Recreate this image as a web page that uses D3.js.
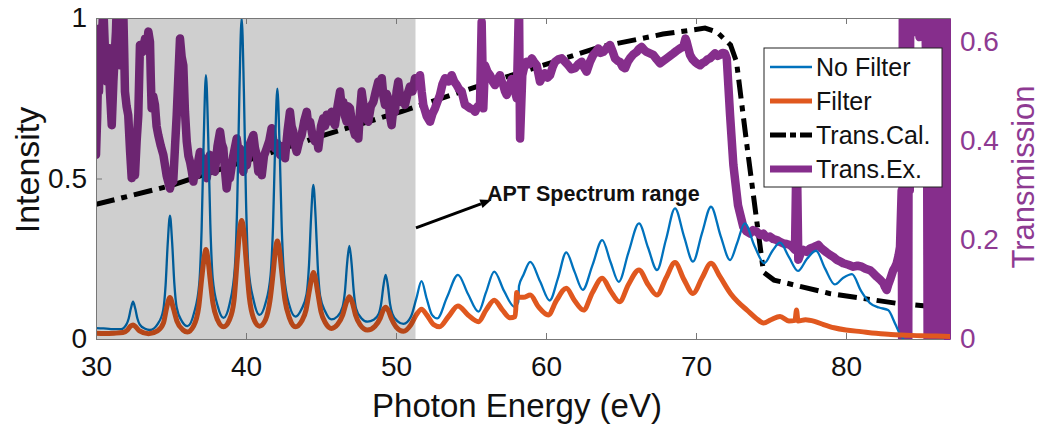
<!DOCTYPE html>
<html>
<head>
<meta charset="utf-8">
<script src="https://cdn.jsdelivr.net/npm/d3@7"></script>
<style>
  body { margin: 0; background: #fff; }
  text { font-family: "Liberation Sans", Arial, Helvetica, sans-serif; }
</style>
</head>
<body>
<svg id="chart" width="1040" height="430"></svg>
<script>
// ---- axis ticks and labels ----
const xTicks = [30, 40, 50, 60, 70, 80];
const leftTicks = [0, 0.5, 1];
const leftTickLabels = ["0", "0.5", "1"];
const rightTicks = [0, 0.2, 0.4, 0.6];
const rightTickLabels = ["0", "0.2", "0.4", "0.6"];
const xLabel = "Photon Energy (eV)";
const leftLabel = "Intensity";
const rightLabel = "Transmission";
const seriesNames = ["No Filter", "Filter", "Trans.Cal.", "Trans.Ex."];

// shaded energy window (eV)
const shadedRange = [30, 51.3];
const annotationText = "APT Spectrum range";
const arrowFrom = [51.33, 0.346];   // [eV, intensity]
const arrowTo = [56.35, 0.433];

// ---- spectra (eV, normalised intensity) ----
const noFilter = [
  [30.0,0.034],[30.5,0.033],[31.0,0.031],[31.67,0.031],[32.02,0.045],[32.18,0.064],[32.32,0.094],[32.47,0.116],[32.62,0.094],[32.76,0.064],[32.92,0.045],[33.27,0.032],[33.6,0.028],
  [34.13,0.048],[34.48,0.09],[34.64,0.168],[34.78,0.296],[34.93,0.384],[35.08,0.298],[35.22,0.175],[35.38,0.098],[35.73,0.055],[36.1,0.04],
  [36.53,0.08],[36.88,0.17],[37.04,0.34],[37.18,0.62],[37.33,0.822],[37.48,0.63],[37.62,0.36],[37.78,0.19],[38.13,0.1],[38.5,0.066],
  [38.91,0.11],[39.26,0.225],[39.42,0.433],[39.56,0.77],[39.71,1.0],[39.86,0.77],[40.0,0.433],[40.16,0.225],[40.51,0.12],[40.9,0.075],
  [41.29,0.11],[41.64,0.2],[41.8,0.35],[41.94,0.6],[42.09,0.78],[42.24,0.6],[42.38,0.35],[42.54,0.2],[42.89,0.105],[43.3,0.07],
  [43.69,0.092],[44.04,0.14],[44.2,0.23],[44.34,0.38],[44.49,0.48],[44.64,0.38],[44.78,0.23],[44.94,0.135],[45.29,0.085],[45.7,0.061],
  [46.09,0.07],[46.44,0.1],[46.6,0.15],[46.74,0.235],[46.89,0.29],[47.04,0.235],[47.18,0.15],[47.34,0.095],[47.69,0.065],[48.1,0.054],
  [48.51,0.06],[48.86,0.08],[49.02,0.113],[49.16,0.165],[49.31,0.2],[49.46,0.165],[49.6,0.11],[49.76,0.078],[50.11,0.055],[50.5,0.047],
  [51.0,0.07],[51.35,0.125],[51.7,0.18],[52.05,0.125],[52.4,0.075],[52.75,0.064],
  [53.4,0.13],[54.13,0.2],[54.8,0.14],[55.5,0.085],[56.0,0.145],[56.55,0.21],[57.2,0.15],[57.9,0.1],[58.15,0.115],[58.2,0.165],
  [58.5,0.2],[58.95,0.24],[59.6,0.18],[60.25,0.12],[60.8,0.19],[61.35,0.27],[61.9,0.21],[62.45,0.153],[63.1,0.23],[63.75,0.308],
  [64.3,0.24],[64.85,0.178],[65.5,0.27],[66.2,0.36],[66.8,0.285],[67.4,0.215],[68.0,0.31],[68.6,0.407],[69.2,0.32],[69.8,0.241],
  [70.4,0.33],[71.0,0.412],[71.65,0.32],[72.27,0.246],[72.75,0.3],[73.25,0.36],[73.9,0.29],[74.55,0.236],[75.1,0.275],[75.6,0.3],
  [76.2,0.255],[76.8,0.212],[77.4,0.25],[78.0,0.275],[78.6,0.22],[79.25,0.17],[79.8,0.19],[80.4,0.202],[81.0,0.15],[81.6,0.112],
  [82.2,0.098],[82.8,0.09],[83.3,0.045],[83.6,0.015],[83.85,0.0]
];

const filter = [
  [30.0,0.018],[30.6,0.017],[31.2,0.018],[31.8,0.02],[32.1,0.028],[32.3,0.04],[32.47,0.044],[32.65,0.038],[32.9,0.025],[33.5,0.016],
  [34.1,0.025],[34.5,0.05],[34.7,0.095],[34.93,0.129],[35.15,0.097],[35.4,0.055],[35.8,0.028],[36.1,0.022],
  [36.5,0.04],[36.85,0.1],[37.05,0.19],[37.2,0.25],[37.33,0.279],[37.46,0.25],[37.6,0.19],[37.8,0.11],[38.1,0.06],[38.5,0.038],
  [38.9,0.06],[39.2,0.12],[39.42,0.25],[39.58,0.34],[39.71,0.369],[39.84,0.34],[40.0,0.25],[40.22,0.13],[40.5,0.065],[40.9,0.04],
  [41.3,0.06],[41.6,0.12],[41.82,0.21],[41.97,0.28],[42.09,0.305],[42.22,0.28],[42.38,0.21],[42.6,0.12],[42.9,0.065],[43.3,0.038],
  [43.7,0.055],[44.0,0.09],[44.22,0.15],[44.38,0.19],[44.49,0.207],[44.62,0.19],[44.78,0.145],[45.0,0.085],[45.3,0.05],[45.7,0.033],
  [46.1,0.045],[46.45,0.075],[46.7,0.115],[46.89,0.132],[47.08,0.115],[47.3,0.075],[47.6,0.045],[48.1,0.028],
  [48.6,0.04],[48.95,0.065],[49.15,0.09],[49.31,0.099],[49.47,0.09],[49.7,0.063],[50.0,0.038],[50.5,0.024],
  [51.0,0.045],[51.35,0.075],[51.7,0.093],[52.05,0.075],[52.5,0.045],[52.9,0.038],[53.5,0.07],[54.13,0.103],[54.8,0.075],[55.5,0.054],
  [56.0,0.09],[56.55,0.121],[57.1,0.09],[57.6,0.066],[57.95,0.07],[58.05,0.145],[58.15,0.13],[58.5,0.13],[58.95,0.137],[59.5,0.1],
  [60.15,0.075],[60.7,0.12],[61.35,0.158],[61.9,0.12],[62.5,0.09],[63.1,0.145],[63.75,0.189],[64.3,0.15],[64.9,0.116],[65.5,0.17],
  [66.2,0.215],[66.8,0.17],[67.4,0.137],[68.0,0.19],[68.6,0.238],[69.2,0.185],[69.8,0.142],[70.4,0.19],[71.0,0.236],[71.6,0.194],
  [72.3,0.142],[72.8,0.115],[73.4,0.09],[74.0,0.065],[74.5,0.05],[75.0,0.06],[75.6,0.07],[76.2,0.056],[76.6,0.058],[76.7,0.09],
  [76.8,0.056],[77.3,0.06],[77.9,0.055],[78.5,0.045],[79.2,0.035],[80.0,0.028],[81.0,0.023],[82.0,0.018],[83.0,0.014],[84.0,0.012],
  [85.0,0.01],[86.0,0.009],[87.0,0.008]
];

// ---- transmission (eV, fraction) ----
const transCal = [
  [30,0.272],[35,0.31],[40,0.36],[45,0.41],[50.3,0.459],[56.9,0.525],[63.6,0.59],[67.8,0.616],[70.6,0.628],[71.4,0.62],
  [72.3,0.594],[72.7,0.56],[73.4,0.39],[74.0,0.25],[74.5,0.135],[75.2,0.119],[78.9,0.092],[83.4,0.072],[87,0.062]
];

const transEx = [
  [30.0,0.372],[30.08,0.45],[30.15,0.553],[30.2,0.5],[30.27,0.628],[30.38,0.6],[30.49,0.67],[30.6,0.58],[30.71,0.52],[30.77,0.56],
  [30.82,0.588],[30.93,0.5],[31.05,0.432],[31.16,0.52],[31.27,0.588],[31.33,0.62],[31.38,0.67],[31.49,0.6],[31.6,0.553],[31.71,0.62],
  [31.82,0.66],[31.88,0.58],[31.93,0.5],[32.04,0.47],[32.15,0.452],[32.27,0.38],[32.38,0.325],[32.49,0.34],[32.6,0.331],[32.71,0.4],
  [32.82,0.452],[32.88,0.53],[32.93,0.594],[33.1,0.58],[33.27,0.607],[33.38,0.59],[33.49,0.621],[33.6,0.6],[33.65,0.53],[33.71,0.466],
  [33.82,0.49],[33.93,0.473],[34.04,0.43],[34.15,0.412],[34.32,0.39],[34.49,0.372],[34.71,0.33],[34.93,0.304],[35.04,0.32],[35.15,0.318],
  [35.27,0.39],[35.38,0.452],[35.49,0.53],[35.6,0.607],[35.71,0.57],[35.82,0.553],[35.93,0.46],[36.05,0.399],[36.16,0.37],[36.27,0.358],
  [36.38,0.34],[36.49,0.318],[36.6,0.34],[36.71,0.331],[36.82,0.36],
  [36.93,0.378],[37.04,0.36],[37.15,0.365],[37.27,0.34],[37.38,0.325],[37.49,0.35],[37.6,0.372],[37.77,0.35],[37.93,0.338],[38.1,0.39],
  [38.27,0.419],[38.38,0.395],[38.49,0.385],[38.6,0.34],[38.71,0.304],[38.82,0.33],[38.93,0.325],[39.15,0.37],[39.38,0.405],[39.49,0.38],
  [39.6,0.385],[39.71,0.35],[39.82,0.338],[39.93,0.36],[40.05,0.351],[40.27,0.395],[40.49,0.412],[40.6,0.385],[40.71,0.372],[40.82,0.338],
  [40.93,0.35],[41.05,0.331],[41.2,0.37],[41.38,0.385],[41.55,0.4],[41.71,0.426],[41.82,0.4],[41.93,0.385],[42.1,0.395],[42.27,0.372],
  [42.45,0.39],[42.6,0.365],[42.77,0.42],[42.93,0.459],[43.04,0.43],[43.15,0.419],[43.27,0.39],[43.38,0.378],[43.55,0.4],[43.71,0.412],
  [43.88,0.44],[44.05,0.459],[44.16,0.43],[44.27,0.439],[44.44,0.41],[44.6,0.399],[44.71,0.41],[44.82,0.385],[45.0,0.43],[45.15,0.446],
  [45.27,0.43],[45.38,0.453],[45.55,0.44],[45.71,0.459],[45.82,0.44],[45.93,0.432],[46.1,0.47],[46.27,0.5],[46.38,0.47],[46.49,0.479],
  [46.6,0.45],[46.71,0.439],[46.82,0.47],[46.93,0.466],[47.1,0.43],[47.27,0.412],[47.38,0.43],[47.49,0.405],[47.6,0.46],[47.71,0.5],
  [47.82,0.475],[47.93,0.466],[48.04,0.445],[48.15,0.439],[48.32,0.47],[48.49,0.479],[48.65,0.5],[48.82,0.52],[48.93,0.505],[49.05,0.527],
  [49.16,0.49],[49.27,0.473],[49.38,0.495],[49.49,0.486],[49.6,0.45],[49.71,0.432],[49.82,0.465],[49.93,0.459],[50.04,0.5],[50.15,0.52],
  [50.27,0.49],[50.38,0.479],[50.49,0.49],[50.6,0.473],[50.77,0.495],[50.93,0.51],[51.1,0.5],[51.27,0.527],[51.43,0.515],[51.6,0.533],
  [51.71,0.5],[51.82,0.473],
  [52.05,0.45],[52.27,0.439],[52.43,0.455],[52.6,0.466],[52.77,0.48],[52.93,0.493],[53.1,0.515],[53.27,0.527],[53.5,0.52],[53.71,0.533],
  [53.88,0.52],[54.05,0.513],[54.2,0.505],[54.38,0.5],[54.5,0.485],[54.6,0.473],[54.77,0.47],[54.93,0.466],[55.1,0.465],[55.27,0.459],
  [55.45,0.47],[55.6,0.473],[55.71,0.641],[55.82,0.466],[55.93,0.553],[56.1,0.54],[56.27,0.533],[56.45,0.52],[56.6,0.513],[56.77,0.525],
  [56.93,0.533],[57.05,0.52],[57.15,0.513],[57.27,0.5],[57.38,0.493],[57.5,0.505],[57.6,0.513],[57.71,0.525],[57.82,0.52],[57.93,0.5],
  [58.05,0.486],[58.2,0.68],[58.27,0.405],[58.42,0.533],[58.55,0.55],[58.71,0.56],[58.88,0.555],[59.05,0.567],[59.2,0.56],[59.38,0.553],
  [59.5,0.535],[59.6,0.52],[59.77,0.53],[59.93,0.537],[60.1,0.528],[60.27,0.533],[60.45,0.55],[60.6,0.56],[60.82,0.565],[61.05,0.567],
  [61.27,0.56],[61.49,0.553],[61.7,0.545],[61.93,0.547],[62.15,0.555],[62.38,0.56],[62.55,0.548],[62.71,0.54],[62.93,0.56],[63.15,0.574],
  [63.32,0.58],[63.49,0.587],[63.65,0.578],[63.82,0.58],[64.05,0.588],[64.27,0.594],[64.45,0.58],[64.6,0.567],[64.77,0.562],[64.93,0.56],
  [65.1,0.55],[65.27,0.547],[65.45,0.56],[65.6,0.567],[65.82,0.575],[66.05,0.58],[66.2,0.586],[66.38,0.59],[66.55,0.584],[66.71,0.58],
  [66.93,0.577],[67.15,0.574],[67.38,0.565],[67.6,0.557],[67.82,0.562],[68.05,0.567],[68.27,0.572],[68.49,0.577],[68.7,0.582],[68.93,0.587],
  [69.15,0.59],[69.3,0.607],[69.38,0.6],[69.6,0.574],[69.77,0.565],[69.93,0.56],[70.1,0.556],[70.27,0.553],[70.45,0.558],[70.6,0.56],
  [70.77,0.565],[70.93,0.567],[71.1,0.572],[71.27,0.577],[71.45,0.572],[71.6,0.574],[71.77,0.578],[71.93,0.577],[72.05,0.567],
  [72.27,0.453],[72.49,0.352],[72.8,0.27],[72.93,0.254],[73.15,0.227],[73.35,0.218],[73.6,0.213],[73.8,0.22],[74.05,0.217],[74.27,0.21],
  [74.49,0.213],[74.7,0.205],[74.93,0.207],[75.15,0.202],[75.38,0.2],[75.6,0.196],[75.82,0.193],[76.05,0.192],[76.27,0.19],[76.45,0.185],
  [76.6,0.18],[76.71,0.4],[76.82,0.16],[77.0,0.175],[77.15,0.18],[77.38,0.176],[77.6,0.183],[77.88,0.186],[78.15,0.19],[78.3,0.185],
  [78.49,0.18],[78.7,0.175],[78.93,0.17],[79.15,0.166],[79.38,0.16],[79.6,0.157],[79.82,0.153],[80.15,0.15],[80.49,0.146],[80.77,0.148],
  [81.05,0.146],[81.3,0.142],[81.6,0.139],[81.82,0.133],[82.05,0.126],[82.27,0.12],[82.49,0.113],[82.6,0.105],[82.71,0.099],[82.82,0.11],
  [82.93,0.119],[83.05,0.13],[83.15,0.139],[83.27,0.145],[83.38,0.153],[83.5,0.168],[83.6,0.186],[83.71,0.3],
  [83.75,-0.05],[83.8,0.9],[83.85,-0.1],[83.9,1.0],[83.95,-0.1],[84.0,0.95],[84.05,-0.05],[84.1,1.1],[84.15,0.0],[84.2,1.0],
  [84.25,0.3],[84.3,0.9],[84.4,0.7],[84.5,0.62],[84.6,0.8],[84.7,0.64],[84.8,0.75],[84.9,0.61],[85.0,0.7],[85.1,0.63],
  [85.2,0.8],[85.3,0.62],[85.4,0.5],[85.45,-0.1],[85.5,1.0],[85.6,-0.2],[85.7,1.1],[85.8,-0.1],[85.9,0.9],[86.0,-0.2],
  [86.1,1.0],[86.2,-0.1],[86.3,1.2],[86.4,-0.1],[86.5,0.9],[86.6,-0.2],[86.7,1.0],[86.8,-0.1],[86.9,1.1],[87.0,0.0]
];

// ---- colours ----
const cBlue = "#0072BD", cOrange = "#E0581F", cBlack = "#000000", cPurple = "#862E8C", cPurpleText = "#8E3A92";

// ---- layout ----
const svg = d3.select("#chart");
const plot = { left: 96, right: 950, top: 18, bottom: 339 };

const x = d3.scaleLinear().domain([30, 86.933]).range([plot.left, plot.right]);
const yL = d3.scaleLinear().domain([0, 1]).range([plot.bottom, plot.top]);
const yR = d3.scaleLinear().domain([0, 0.6485]).range([plot.bottom, plot.top]);

svg.append("defs").append("clipPath").attr("id", "plotClip")
  .append("rect")
  .attr("x", plot.left).attr("y", plot.top)
  .attr("width", plot.right - plot.left).attr("height", plot.bottom - plot.top);

const g = svg.append("g").attr("clip-path", "url(#plotClip)");

const lineL = d3.line().x(d => x(d[0])).y(d => yL(d[1])).curve(d3.curveMonotoneX);
const lineR = d3.line().x(d => x(d[0])).y(d => yR(d[1]));

// right-axis curves underneath
g.append("path").datum(transCal)
  .attr("d", lineR).attr("fill", "none").attr("stroke", cBlack)
  .attr("stroke-width", 5).attr("stroke-dasharray", "19,7,6,7");

g.append("path").datum(transEx)
  .attr("d", lineR).attr("fill", "none").attr("stroke", cPurple)
  .attr("stroke-width", 8.5).attr("stroke-linejoin", "round").attr("stroke-linecap", "round");

// spectra on top
g.append("path").datum(noFilter)
  .attr("d", lineL).attr("fill", "none").attr("stroke", cBlue)
  .attr("stroke-width", 2.3);

g.append("path").datum(filter)
  .attr("d", lineL).attr("fill", "none").attr("stroke", cOrange)
  .attr("stroke-width", 5).attr("stroke-linejoin", "round");

// translucent window over the APT range
g.append("rect")
  .attr("x", x(shadedRange[0])).attr("y", plot.top)
  .attr("width", x(shadedRange[1]) - x(shadedRange[0]))
  .attr("height", plot.bottom - plot.top)
  .attr("fill", "#000").attr("fill-opacity", 0.19);

// ---- axes ----
const axisColor = "#777";
const tickFont = 28;

const gx = svg.append("g").attr("transform", `translate(0,${plot.bottom})`)
  .call(d3.axisBottom(x).tickValues(xTicks).tickSizeInner(-6).tickSizeOuter(0).tickPadding(17).tickFormat(d3.format("d")));
const gxTop = svg.append("g").attr("transform", `translate(0,${plot.top})`)
  .call(d3.axisTop(x).tickValues(xTicks).tickSizeInner(-6).tickSizeOuter(0).tickFormat(""));
const gyL = svg.append("g").attr("transform", `translate(${plot.left},0)`)
  .call(d3.axisLeft(yL).tickValues(leftTicks).tickSizeInner(-6).tickSizeOuter(0).tickPadding(9)
    .tickFormat((d, i) => leftTickLabels[i]));
const gyR = svg.append("g").attr("transform", `translate(${plot.right},0)`)
  .call(d3.axisRight(yR).tickValues(rightTicks).tickSizeInner(-6).tickSizeOuter(0).tickPadding(10)
    .tickFormat((d, i) => rightTickLabels[i]));

[gx, gxTop, gyL].forEach(a => {
  a.select(".domain").attr("stroke", axisColor);
  a.selectAll(".tick line").attr("stroke", axisColor);
  a.selectAll(".tick text").attr("fill", "#111").attr("font-size", tickFont)
    .attr("font-family", '"Liberation Sans", Arial, sans-serif');
});
gyR.select(".domain").attr("stroke", cPurple);
gyR.selectAll(".tick line").attr("stroke", cPurple);
gyR.selectAll(".tick text").attr("fill", cPurpleText).attr("font-size", tickFont)
  .attr("font-family", '"Liberation Sans", Arial, sans-serif');

// axis titles
svg.append("text").attr("x", 517).attr("y", 417).attr("text-anchor", "middle")
  .attr("font-size", 33).attr("fill", "#111").text(xLabel);
svg.append("text").attr("transform", `translate(39,170) rotate(-90)`).attr("text-anchor", "middle")
  .attr("font-size", 34).attr("fill", "#111").text(leftLabel);
svg.append("text").attr("transform", `translate(1034,177) rotate(-90)`).attr("text-anchor", "middle")
  .attr("font-size", 31).attr("fill", cPurpleText).text(rightLabel);

// ---- annotation ----
const ax0 = x(arrowFrom[0]), ay0 = yL(arrowFrom[1]);
const ax1 = x(arrowTo[0]), ay1 = yL(arrowTo[1]);
const ang = Math.atan2(ay1 - ay0, ax1 - ax0);
const headLen = 11, headW = 4.5;
const bx = ax1 - headLen * Math.cos(ang), by = ay1 - headLen * Math.sin(ang);
svg.append("line").attr("x1", ax0).attr("y1", ay0).attr("x2", bx).attr("y2", by)
  .attr("stroke", "#000").attr("stroke-width", 3);
svg.append("polygon")
  .attr("points", [
    [ax1, ay1],
    [bx + headW * Math.sin(ang), by - headW * Math.cos(ang)],
    [bx - headW * Math.sin(ang), by + headW * Math.cos(ang)]
  ].map(p => p.join(",")).join(" "))
  .attr("fill", "#000");
svg.append("text").attr("x", x(56.07)).attr("y", 201).attr("font-size", 21.5).attr("font-weight", "bold")
  .attr("fill", "#111").text(annotationText);

// ---- legend ----
const leg = svg.append("g");
leg.append("rect").attr("x", 764).attr("y", 48).attr("width", 178).attr("height", 139)
  .attr("fill", "#fff").attr("stroke", "#222").attr("stroke-width", 1);
const legendStyles = [
  { color: cBlue, width: 2.3, dash: null },
  { color: cOrange, width: 5, dash: null },
  { color: cBlack, width: 5, dash: "16,4,6,4" },
  { color: cPurple, width: 7, dash: null }
];
seriesNames.forEach((name, i) => {
  const yy = 67 + i * 34;
  const s = legendStyles[i];
  leg.append("line").attr("x1", 770).attr("x2", 812).attr("y1", yy).attr("y2", yy)
    .attr("stroke", s.color).attr("stroke-width", s.width).attr("stroke-dasharray", s.dash);
  leg.append("text").attr("x", 816).attr("y", yy).attr("dy", "0.35em")
    .attr("font-size", 25).attr("fill", "#111").text(name);
});
</script>
</body>
</html>
